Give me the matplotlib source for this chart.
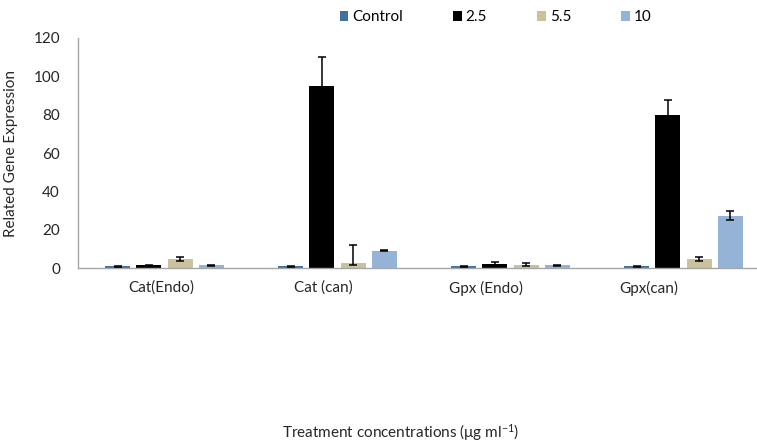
import matplotlib
matplotlib.use("Agg")
import matplotlib.pyplot as plt
import numpy as np

plt.rcParams['font.family'] = ['Lato', 'DejaVu Sans']
plt.rcParams['mathtext.default'] = 'regular'

categories = ["Cat(Endo)", "Cat (can)", "Gpx (Endo)", "Gpx(can)"]
series_names = ["Control", "2.5", "5.5", "10"]

control = [1.0, 1.0, 1.0, 1.0]
conc_2_5 = [1.5, 95.0, 2.3, 79.8]
conc_5_5 = [4.8, 2.8, 1.9, 4.8]
conc_10 = [1.7, 9.2, 1.6, 27.5]

control_err_lo = [0.3, 0.3, 0.3, 0.3]
control_err_hi = [0.3, 0.3, 0.3, 0.3]
conc_2_5_err_lo = [0.2, 15.0, 1.1, 7.7]
conc_2_5_err_hi = [0.2, 15.0, 1.1, 7.7]
conc_5_5_err_lo = [1.2, 1.0, 0.5, 1.0]
conc_5_5_err_hi = [1.2, 9.2, 0.8, 1.0]
conc_10_err_lo = [0.3, 0.4, 0.3, 2.5]
conc_10_err_hi = [0.3, 0.4, 0.3, 2.5]

yticks = [0, 20, 40, 60, 80, 100, 120]

values = [control, conc_2_5, conc_5_5, conc_10]
errs = [(control_err_lo, control_err_hi), (conc_2_5_err_lo, conc_2_5_err_hi),
        (conc_5_5_err_lo, conc_5_5_err_hi), (conc_10_err_lo, conc_10_err_hi)]
colors = ["#41719C", "#000000", "#C9C29C", "#95B3D7"]

W, H = 757, 442
REF_H = 560.0
fig = plt.figure(figsize=(W / 100, H / 100), dpi=100)
ax = fig.add_axes([78 / 757, (REF_H - 340) / REF_H, 692 / 757, 292 / REF_H])

x = np.arange(len(categories))
step = 0.181
width = 0.144
offsets = (np.arange(4) - 1.5) * step
handles = []
for i in range(4):
    b = ax.bar(x + offsets[i], values[i], width, color=colors[i],
               label=series_names[i], zorder=2)
    ax.errorbar(x + offsets[i], values[i], yerr=[errs[i][0], errs[i][1]],
                fmt='none', ecolor='black', elinewidth=1.1, capsize=3,
                capthick=1.1, zorder=3)
    handles.append(b)

ax.set_xlim(-0.5, 3.5)
ax.set_ylim(0, 120)
ax.set_yticks(yticks)
ax.set_yticklabels([str(t) for t in yticks])

label_pos = x * 0.94 - 0.02
ax.set_xticks(label_pos)
ax.set_xticklabels(categories)

for s in ['top', 'right']:
    ax.spines[s].set_visible(False)
for s in ['left', 'bottom']:
    ax.spines[s].set_color('#A6A6A6')
    ax.spines[s].set_linewidth(1.0)
ax.tick_params(axis='both', length=0, labelsize=11, colors='#262626')
ax.tick_params(axis='y', pad=13)
ax.tick_params(axis='x', pad=9)

ax.set_ylabel("Related Gene Expression", fontsize=11, color='#262626')
ax.yaxis.set_label_coords(-0.087, 0.5)

fig.text(401 / 757, 12 / REF_H, "Treatment concentrations (\u03bcg ml$^{-1}$)",
         ha='center', va='center', fontsize=11, color='#262626')

leg = fig.legend(handles=handles, labels=series_names, ncol=4, frameon=False,
                 loc='center left', bbox_to_anchor=(340 / 757, 1 - 22 / REF_H),
                 fontsize=11, handlelength=0.55, handleheight=0.55,
                 handletextpad=0.25, columnspacing=3.3, borderpad=0,
                 borderaxespad=0)

fig.savefig("out.png", dpi=100)
